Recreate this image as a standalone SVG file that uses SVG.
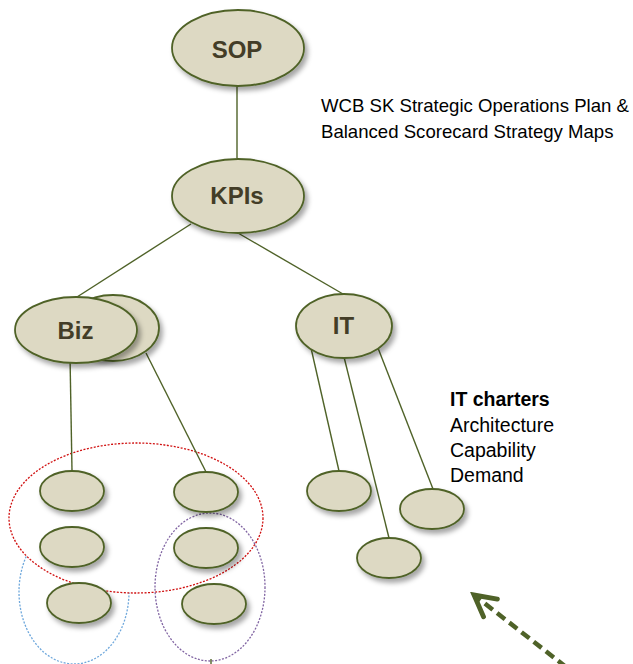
<svg xmlns="http://www.w3.org/2000/svg" width="633" height="664" viewBox="0 0 633 664">
<defs>
<filter id="sh" x="-30%" y="-30%" width="170%" height="170%">
<feDropShadow dx="3" dy="4" stdDeviation="2.5" flood-color="#000" flood-opacity="0.35"/>
</filter>
<marker id="chev" markerUnits="userSpaceOnUse" markerWidth="30" markerHeight="30" viewBox="-24 -14 28 28" refX="0" refY="0" orient="auto">
<polyline points="-19.5,-10.5 0,0 -19.5,10.5" fill="none" stroke="#4f6228" stroke-width="4.5" stroke-linecap="round" stroke-linejoin="miter"/>
</marker>
<style>
.node{fill:#ddd9c3;stroke:#4f6228;stroke-width:1.8;filter:url(#sh)}
.lbl{font-family:"Liberation Sans",Arial,sans-serif;font-weight:bold;font-size:24px;fill:#433d27;text-anchor:middle}
.conn{stroke:#4f6228;stroke-width:1.4;fill:none}
.txt{font-family:"Liberation Sans",Arial,sans-serif;fill:#000}
</style>
</defs>
<rect width="633" height="664" fill="#fff"/>

<g id="groups">
<ellipse id="blue-group" cx="74" cy="592" rx="55" ry="72" fill="none" stroke="#6fa8dc" stroke-width="1.3" stroke-dasharray="2 1.5"/>
<ellipse id="red-group" cx="136" cy="518" rx="127" ry="75" fill="#fff" stroke="#d01010" stroke-width="1.3" stroke-dasharray="2 1.5"/>
<ellipse id="purple-group" cx="210" cy="587" rx="55" ry="74" fill="none" stroke="#8064a2" stroke-width="1.3" stroke-dasharray="2 1.5"/>
</g>

<g id="connectors">
<line class="conn" x1="237" y1="86" x2="237" y2="158"/>
<line class="conn" x1="191" y1="224" x2="77" y2="297"/>
<line class="conn" x1="238" y1="233" x2="343" y2="294"/>
<line class="conn" x1="70" y1="356" x2="72" y2="471"/>
<line class="conn" x1="146" y1="353" x2="206" y2="472"/>
<line class="conn" x1="311" y1="348" x2="339" y2="471"/>
<line class="conn" x1="344" y1="357" x2="389" y2="538"/>
<line class="conn" x1="378" y1="348" x2="433" y2="489"/>
<line class="conn" x1="211" y1="659" x2="211" y2="664" stroke-width="4"/>
<line x1="566" y1="667" x2="474" y2="595" stroke="#4f6228" stroke-width="4.5" stroke-dasharray="10 5.5" marker-end="url(#chev)"/>
</g>

<g id="sop"><ellipse class="node" cx="238" cy="48" rx="66" ry="38"/><text class="lbl" x="237" y="57.5">SOP</text></g>
<g id="kpis"><ellipse class="node" cx="238" cy="196" rx="66" ry="37"/><text class="lbl" x="237" y="204">KPIs</text></g>
<g id="biz-back"><ellipse class="node" cx="113" cy="328" rx="46" ry="33"/></g>
<g id="biz"><ellipse class="node" cx="76" cy="330" rx="61" ry="33"/><text class="lbl" x="75.5" y="339">Biz</text></g>
<g id="it"><ellipse class="node" cx="344" cy="326" rx="48" ry="32"/><text class="lbl" x="343.5" y="334">IT</text></g>

<g id="biz-1"><ellipse class="node" cx="72" cy="491" rx="32" ry="20"/></g>
<g id="biz-2"><ellipse class="node" cx="72" cy="547" rx="32" ry="20"/></g>
<g id="biz-3"><ellipse class="node" cx="79" cy="603" rx="32" ry="20"/></g>
<g id="biz-4"><ellipse class="node" cx="206" cy="492" rx="32" ry="20"/></g>
<g id="biz-5"><ellipse class="node" cx="206" cy="548" rx="32" ry="20"/></g>
<g id="biz-6"><ellipse class="node" cx="214" cy="604" rx="32" ry="20"/></g>

<g id="it-1"><ellipse class="node" cx="339" cy="491" rx="32" ry="20"/></g>
<g id="it-2"><ellipse class="node" cx="432" cy="509" rx="32" ry="20"/></g>
<g id="it-3"><ellipse class="node" cx="389" cy="558" rx="32" ry="20"/></g>

<g id="title-text" class="txt" font-size="18.6">
<text x="321" y="111.5">WCB SK Strategic Operations Plan &amp;</text>
<text x="321" y="137.5">Balanced Scorecard Strategy Maps</text>
</g>
<g id="it-charters-text" class="txt" font-size="19.5">
<text x="450" y="406" font-weight="bold">IT charters</text>
<text x="450" y="431.5">Architecture</text>
<text x="450" y="456.5">Capability</text>
<text x="450" y="481.5">Demand</text>
</g>
</svg>
